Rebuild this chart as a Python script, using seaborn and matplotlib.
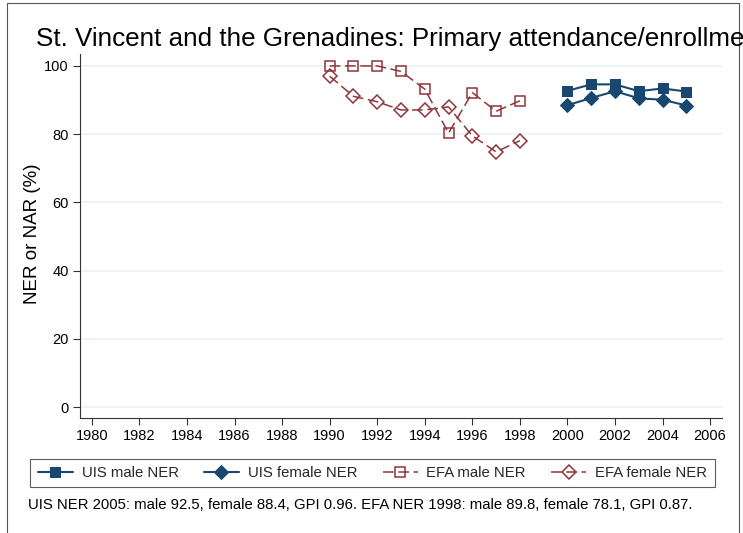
import matplotlib
matplotlib.use("Agg")
import matplotlib.pyplot as plt
import seaborn as sns
import pandas as pd
from matplotlib.patches import Rectangle

# --- data ---
uis_years = [2000, 2001, 2002, 2003, 2004, 2005]
uis_male = [92.7, 94.6, 94.6, 92.6, 93.4, 92.5]
uis_female = [88.5, 90.6, 92.6, 90.5, 90.1, 88.4]

efa_years = [1990, 1991, 1992, 1993, 1994, 1995, 1996, 1997, 1998]
efa_male = [100.0, 100.0, 100.0, 98.4, 93.2, 80.3, 92.2, 86.7, 89.8]
efa_female = [97.0, 91.1, 89.5, 87.1, 87.1, 88.0, 79.5, 74.8, 78.1]

x_ticks = list(range(1980, 2007, 2))
y_ticks = [0, 20, 40, 60, 80, 100]

title = "St. Vincent and the Grenadines: Primary attendance/enrollment"
caption = ("UIS NER 2005: male 92.5, female 88.4, GPI 0.96. "
           "EFA NER 1998: male 89.8, female 78.1, GPI 0.87.")

navy = "#1a476f"
maroon = "#90353b"

sns.set_theme(style="white")
plt.rcParams["font.family"] = ["Liberation Sans", "DejaVu Sans"]

fig = plt.figure(figsize=(7.43, 5.33), dpi=100)
ax = fig.add_axes([80 / 743, 115 / 533, 642 / 743, 364 / 533])

uis = pd.DataFrame({"year": uis_years, "male": uis_male, "female": uis_female})
efa = pd.DataFrame({"year": efa_years, "male": efa_male, "female": efa_female})

sns.lineplot(data=uis, x="year", y="male", ax=ax, color=navy, lw=1.5,
             marker="s", markersize=6.5, markeredgecolor=navy,
             label="UIS male NER")
sns.lineplot(data=uis, x="year", y="female", ax=ax, color=navy, lw=1.5,
             marker="D", markersize=7.5, markeredgecolor=navy,
             label="UIS female NER")
sns.lineplot(data=efa, x="year", y="male", ax=ax, color=maroon, lw=1.1,
             linestyle=(0, (7, 3)), marker="s", markersize=6.5,
             markerfacecolor="none", markeredgecolor=maroon, markeredgewidth=1.1,
             label="EFA male NER")
sns.lineplot(data=efa, x="year", y="female", ax=ax, color=maroon, lw=1.1,
             linestyle=(0, (7, 3)), marker="D", markersize=7.5,
             markerfacecolor="none", markeredgecolor=maroon, markeredgewidth=1.1,
             label="EFA female NER")

ax.set_xlim(1979.5, 2006.5)
ax.set_ylim(-3.2, 103.5)
ax.set_xticks(x_ticks)
ax.set_yticks(y_ticks)
ax.tick_params(axis="both", which="major", labelsize=10.5, length=5,
               width=0.8, color="#333333", pad=3, labelcolor="black",
               left=True, bottom=True)
ax.yaxis.grid(True, color="#eaf2f3", lw=1.2)
ax.xaxis.grid(False)
for side in ["top", "right"]:
    ax.spines[side].set_visible(False)
for side in ["left", "bottom"]:
    ax.spines[side].set_color("#333333")
    ax.spines[side].set_linewidth(0.8)

ax.set_xlabel("")
ax.set_ylabel("NER or NAR (%)", fontsize=13.5, color="black")
ax.yaxis.set_label_coords(-0.0607, 0.505)

leg = ax.legend(loc="center", bbox_to_anchor=(372.5 / 743, 60 / 533),
                bbox_transform=fig.transFigure, ncol=4, fontsize=10.7,
                frameon=True, fancybox=False, edgecolor="#333333",
                handlelength=2.35, handletextpad=0.6, columnspacing=1.7,
                borderpad=0.5)
leg.get_frame().set_linewidth(0.8)

fig.text(35.7 / 743, 1 - 45.7 / 533, title, fontsize=18.7, va="baseline",
         ha="left", color="black")
fig.text(27.7 / 743, 1 - 509 / 533, caption, fontsize=10.7, va="baseline",
         ha="left", color="black")

# outer graph-region border, as in the source figure
fig.patches.append(Rectangle((7 / 743, -0.1), 732 / 743, 1.1 - 3 / 533,
                             transform=fig.transFigure, fill=False,
                             edgecolor="#555555", lw=0.8))

fig.savefig("out.png", dpi=100)
